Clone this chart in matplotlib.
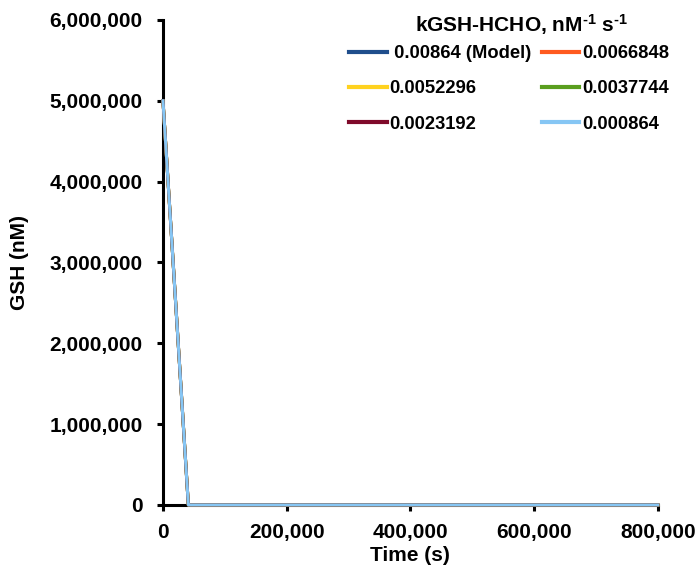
import matplotlib
matplotlib.use("Agg")
import matplotlib.pyplot as plt
from matplotlib.ticker import FuncFormatter

plt.rcParams["font.family"] = ["Liberation Sans", "DejaVu Sans"]
plt.rcParams["font.weight"] = "bold"
plt.rcParams["mathtext.fontset"] = "custom"
plt.rcParams["mathtext.rm"] = "Liberation Sans:bold"
plt.rcParams["mathtext.bf"] = "Liberation Sans:bold"
plt.rcParams["mathtext.default"] = "bf"

# time (s) and GSH (nM) for each rate constant
tid = [0, 41000, 100000, 200000, 300000, 400000, 500000, 600000, 700000, 800000]
gsh_modell = [5000000, 0, 0, 0, 0, 0, 0, 0, 0, 0]
gsh_k2 = [5000000, 0, 0, 0, 0, 0, 0, 0, 0, 0]
gsh_k3 = [5000000, 0, 0, 0, 0, 0, 0, 0, 0, 0]
gsh_k4 = [5000000, 0, 0, 0, 0, 0, 0, 0, 0, 0]
gsh_k5 = [5000000, 0, 0, 0, 0, 0, 0, 0, 0, 0]
gsh_k6 = [5000000, 0, 0, 0, 0, 0, 0, 0, 0, 0]

etiketter = [" 0.00864 (Model)", "0.0066848", "0.0052296",
             "0.0037744", "0.0023192", "0.000864"]
farger = ["#1F4E8C", "#FF5A1F", "#FFD21F", "#5A9E1E", "#7F0A2A", "#86C6F4"]
serier = [gsh_modell, gsh_k2, gsh_k3, gsh_k4, gsh_k5, gsh_k6]

fig = plt.figure(figsize=(6.98, 5.68), dpi=100)
ax = fig.add_axes([0.2335, 0.111, 0.709, 0.854])

linjer = []
for verdier, farge, navn in zip(serier, farger, etiketter):
    l, = ax.plot(tid, verdier, color=farge, lw=2.2, label=navn,
                 clip_on=False, zorder=3)
    linjer.append(l)

ax.set_xlim(0, 800000)
ax.set_ylim(0, 6000000)
ax.set_xticks([0, 200000, 400000, 600000, 800000])
ax.set_yticks(range(0, 6000001, 1000000))
komma = FuncFormatter(lambda v, p: f"{int(v):,}")
ax.xaxis.set_major_formatter(komma)
ax.yaxis.set_major_formatter(komma)

for side in ["top", "right"]:
    ax.spines[side].set_visible(False)
for side in ["left", "bottom"]:
    ax.spines[side].set_linewidth(2.2)
ax.tick_params(direction="out", length=4.5, width=2.2, labelsize=15)
ax.tick_params(axis="y", pad=10)
ax.tick_params(axis="x", pad=8.5)
for lab in ax.get_xticklabels() + ax.get_yticklabels():
    lab.set_fontweight("bold")

ax.set_xlabel("Time (s)", fontsize=15, fontweight="bold", labelpad=3)
ax.set_ylabel("GSH (nM)", fontsize=15, fontweight="bold", labelpad=15)

# legenden fylles radvis som i originalen
rekkefolge = [0, 2, 4, 1, 3, 5]
leg = fig.legend([linjer[i] for i in rekkefolge],
                 [etiketter[i] for i in rekkefolge],
                 ncol=2, loc="upper left", bbox_to_anchor=(349 / 698, 1 - 45 / 568),
                 frameon=False, fontsize=13.2, handlelength=2.05, borderpad=0,
                 borderaxespad=0, handletextpad=0.15, columnspacing=0.55,
                 labelspacing=1.0)
for t in leg.get_texts():
    t.set_fontweight("bold")
for h in leg.get_lines():
    h.set_linewidth(3)

fig.text(521 / 698, 1 - 25 / 568, r"kGSH-HCHO, nM$^{\text{-1}}$ s$^{\text{-1}}$",
         ha="center", va="center", fontsize=15, fontweight="bold")

fig.savefig("out.png", dpi=100)
